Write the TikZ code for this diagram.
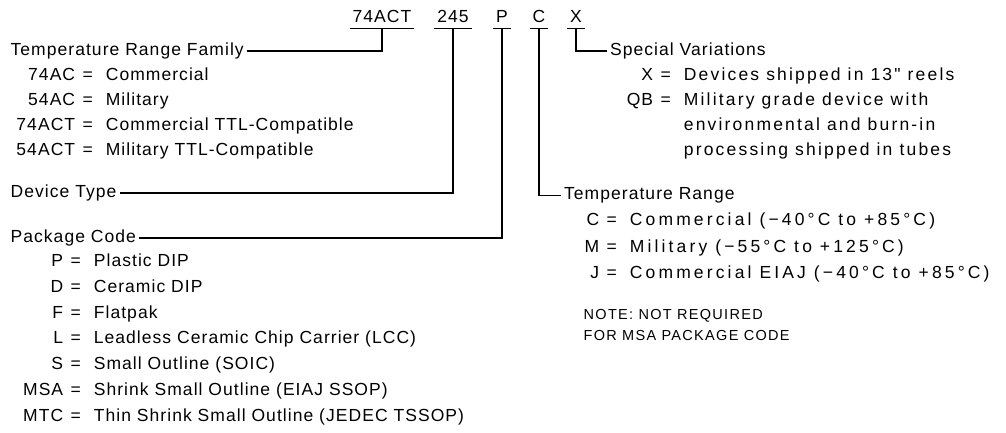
\documentclass[tikz,border=0pt]{standalone}
\usepackage{fontspec}
\setmainfont{Liberation Sans}[LetterSpace=6]
\newfontfamily\notefont{Liberation Sans}[LetterSpace=9]
\newfontfamily\svfont{Liberation Sans}[LetterSpace=12.5]
\newfontfamily\trfont{Liberation Sans}[LetterSpace=18]
\newcommand\eqrow[2]{\llap{#1\hspace{7.5pt}}=\hspace{13pt}#2}
\newcommand\controw[1]{\phantom{=}\hspace{13pt}#1}
\begin{document}
\begin{tikzpicture}[x=1pt,y=-1pt,
  font=\fontsize{17.5}{20}\selectfont,
  line width=1.3pt,
  code/.style={anchor=base, inner xsep=2.5pt, inner ysep=6pt, text depth=0pt},
  lbl/.style={anchor=mid west, inner xsep=2.5pt, inner ysep=0pt},
  row/.style={anchor=mid west, inner sep=0pt},
  note/.style={anchor=mid west, inner sep=0pt, font=\notefont\fontsize{14.5}{17}\selectfont}]
\useasboundingbox (0,0) rectangle (1006,432);
% part number codes
\node[code] (c74) at (382,22) {74ACT};
\node[code] (c245) at (453,22) {245};
\node[code] (cP) at (502,22) {P};
\node[code] (cC) at (539,22) {C};
\node[code] (cX) at (576,22) {X};
\foreach \c in {c74,c245,cP,cC,cX}
  \draw (\c.south west) -- (\c.south east);
% left labels
\node[lbl] (trf) at (7.5,53) {Temperature Range Family};
\node[row] (f1) at (82,78) {\eqrow{74AC}{Commercial}};
\node[row] (f2) at (82,103) {\eqrow{54AC}{Military}};
\node[row] (f3) at (82,128) {\eqrow{74ACT}{Commercial TTL-Compatible}};
\node[row] (f4) at (82,153) {\eqrow{54ACT}{Military TTL-Compatible}};
\node[lbl] (dt) at (7.5,195) {Device Type};
\node[lbl] (pc) at (7.5,240) {Package Code};
\node[row] (p1) at (70,264.2) {\eqrow{P}{Plastic DIP}};
\node[row] (p2) at (70,289.9) {\eqrow{D}{Ceramic DIP}};
\node[row] (p3) at (70,315.6) {\eqrow{F}{Flatpak}};
\node[row] (p4) at (70,341.3) {\eqrow{L}{Leadless Ceramic Chip Carrier (LCC)}};
\node[row] (p5) at (70,367) {\eqrow{S}{Small Outline (SOIC)}};
\node[row] (p6) at (70,392.7) {\eqrow{MSA}{Shrink Small Outline (EIAJ SSOP)}};
\node[row] (p7) at (70,418.4) {\eqrow{MTC}{Thin Shrink Small Outline (JEDEC TSSOP)}};
% right labels
\node[lbl] (sv) at (607,53) {Special Variations};
\node[row] (s1) at (660,78) {\eqrow{X}{\svfont Devices shipped in 13" reels}};
\node[row] (s2) at (660,103) {\eqrow{QB}{\svfont Military grade device with}};
\node[row] (s3) at (660,128) {\controw{\svfont environmental and burn-in}};
\node[row] (s4) at (660,153) {\controw{\svfont processing shipped in tubes}};
\node[lbl] (tr) at (561,197) {Temperature Range};
\node[row] (t1) at (606,223) {\eqrow{C}{\trfont Commercial (−40°C to +85°C)}};
\node[row] (t2) at (606,250) {\eqrow{M}{\trfont Military (−55°C to +125°C)}};
\node[row] (t3) at (606,276) {\eqrow{J}{\trfont Commercial EIAJ (−40°C to +85°C)}};
\node[note] (n1) at (583,317) {NOTE: NOT REQUIRED};
\node[note] (n2) at (583,338) {FOR MSA PACKAGE CODE};
% connectors
\draw (c74.south) |- (trf.east);
\draw (c245.south) |- (dt.east);
\draw (cP.south) |- (pc.east);
\draw (cC.south) |- (tr.west);
\draw (cX.south) |- (sv.west);
\end{tikzpicture}
\end{document}
